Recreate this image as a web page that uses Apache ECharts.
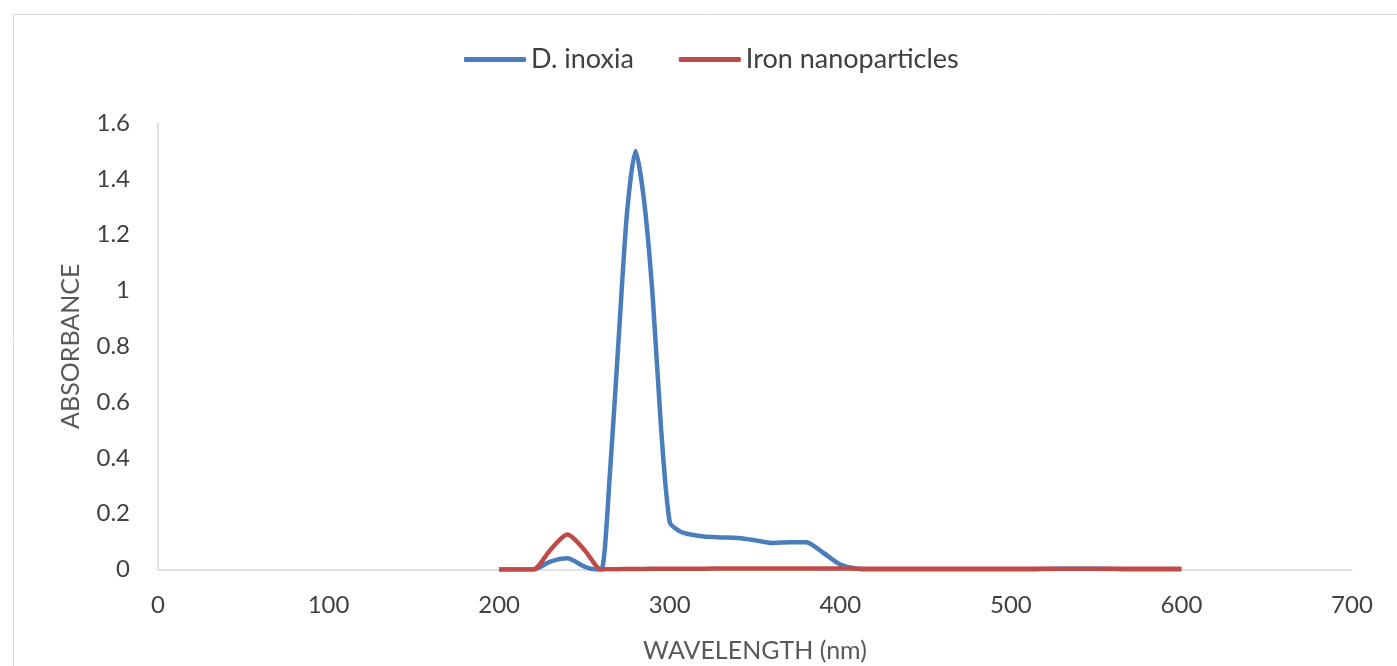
<!DOCTYPE html>
<html>
<head>
<meta charset="utf-8">
<script src="https://cdn.jsdelivr.net/npm/echarts@6/dist/echarts.min.js"></script>
<style>
  html, body { margin: 0; padding: 0; background: #fff; }
  #chart { width: 1397px; height: 666px; }
</style>
</head>
<body>
<div id="chart"></div>
<script>
// wavelength (nm)
const wavelength = [200, 210, 220, 230, 240, 250, 257, 260, 265, 270, 275, 280, 285, 290, 295, 300, 305, 310, 320, 330, 340, 350, 360, 370, 380, 390, 400,
  410, 420, 440, 460, 480, 500, 510, 520, 530, 540, 550, 560, 570, 580, 600];
// absorbance
const inoxia = [0, 0, 0, 0.028, 0.04, 0.01, 0, 0, 0.35, 0.82, 1.28, 1.5, 1.32, 0.98, 0.5, 0.17, 0.14, 0.128, 0.118, 0.115, 0.113, 0.105, 0.095, 0.098, 0.098, 0.06, 0.018,
  0.003, 0, 0, 0, 0, 0, 0, 0.002, 0.003, 0.003, 0.003, 0.002, 0, 0, 0];
const ironNano = [0, 0, 0, 0.07, 0.125, 0.07, 0.012, 0, 0.001, 0.001, 0.002, 0.002, 0.002, 0.003, 0.003, 0.003, 0.003, 0.003, 0.003, 0.004, 0.004, 0.004, 0.004, 0.004, 0.004, 0.004, 0.004,
  0.003, 0.003, 0.003, 0.003, 0.003, 0.003, 0.003, 0.003, 0.003, 0.003, 0.003, 0.003, 0.003, 0.003, 0.003];

const seriesNames = ['D. inoxia', 'Iron nanoparticles'];
const xTicks = { min: 0, max: 700, interval: 100 };
const yTicks = { min: 0, max: 1.6, interval: 0.2 };

const pairs = (ys) => wavelength.map((x, i) => [x, ys[i]]);

const textColor = '#404040';
const fontFamily = 'Lato, "Open Sans", sans-serif';

let myChart = echarts.init(document.getElementById('chart'), null, { renderer: 'canvas' });

let option = {
  animation: false,
  textStyle: { fontFamily: fontFamily },
  graphic: [{
    type: 'rect',
    shape: { x: 13.5, y: 14.5, width: 1420, height: 700 },
    style: { fill: 'none', stroke: '#d9d9d9', lineWidth: 1 },
    silent: true,
    z: -1
  }],
  legend: {
    data: seriesNames,
    left: 459,
    top: 41,
    itemWidth: 62,
    itemHeight: 5,
    itemGap: 45,
    icon: 'roundRect',
    textStyle: { color: textColor, fontSize: 27, fontFamily: fontFamily }
  },
  grid: { left: 158, right: 45, top: 123, bottom: 96.5, outerBoundsMode: 'none' },
  xAxis: {
    type: 'value',
    min: xTicks.min,
    max: xTicks.max,
    interval: xTicks.interval,
    name: 'WAVELENGTH (nm)',
    nameLocation: 'middle',
    nameGap: 69,
    nameTextStyle: { color: '#595959', fontSize: 25 },
    axisLine: { lineStyle: { color: '#d9d9d9', width: 1.5 } },
    axisTick: { show: false },
    splitLine: { show: false },
    axisLabel: { color: textColor, fontSize: 24, margin: 24 }
  },
  yAxis: {
    type: 'value',
    min: yTicks.min,
    max: yTicks.max,
    interval: yTicks.interval,
    name: 'ABSORBANCE',
    nameLocation: 'middle',
    nameGap: 75,
    nameTextStyle: { color: '#595959', fontSize: 25 },
    axisLine: { show: true, lineStyle: { color: '#d9d9d9', width: 1.5 } },
    axisTick: { show: false },
    splitLine: { show: false },
    axisLabel: { color: textColor, fontSize: 24, margin: 28 }
  },
  series: [
    {
      name: seriesNames[0],
      type: 'line',
      data: pairs(inoxia),
      smooth: 0.25,
      showSymbol: false,
      clip: true,
      itemStyle: { color: '#4a7ebb' },
      lineStyle: { color: '#4a7ebb', width: 4.5 },
      z: 2
    },
    {
      name: seriesNames[1],
      type: 'line',
      data: pairs(ironNano),
      smooth: 0.25,
      showSymbol: false,
      clip: true,
      itemStyle: { color: '#be4b48' },
      lineStyle: { color: '#be4b48', width: 4.5 },
      z: 3
    }
  ]
};

myChart.setOption(option, true);
window.addEventListener('resize', myChart.resize);
</script>
</body>
</html>
